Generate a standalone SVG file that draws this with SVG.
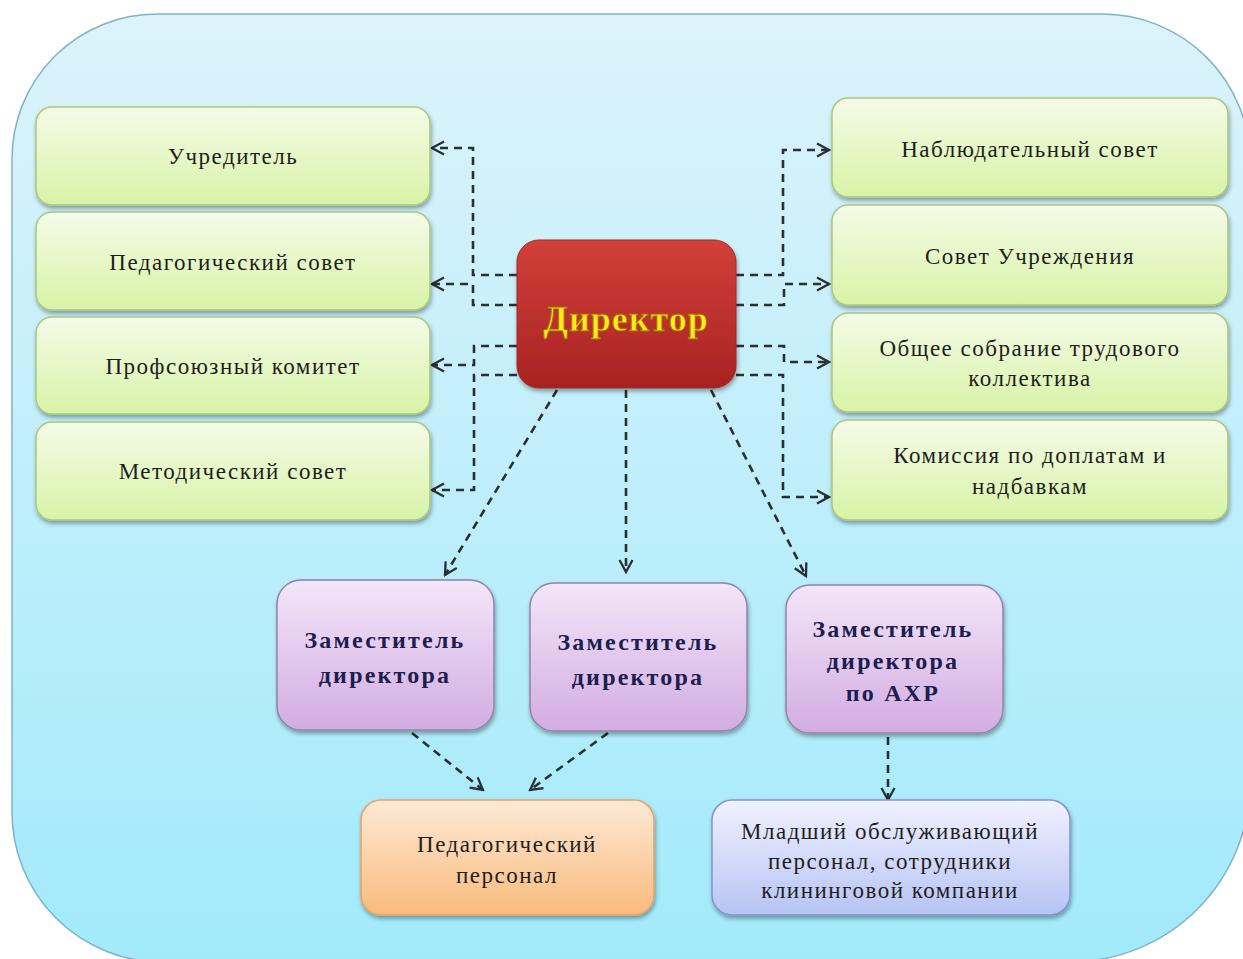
<svg xmlns="http://www.w3.org/2000/svg" width="1243" height="959" viewBox="0 0 1243 959">
<defs>
  <linearGradient id="bg" x1="0" y1="0" x2="0" y2="1">
    <stop offset="0" stop-color="#dcf3fb"/>
    <stop offset="1" stop-color="#a2eafb"/>
  </linearGradient>
  <linearGradient id="gGreen" x1="0" y1="0" x2="0" y2="1">
    <stop offset="0" stop-color="#f4fbe8"/>
    <stop offset="1" stop-color="#d8f3a6"/>
  </linearGradient>
  <linearGradient id="gRed" x1="0" y1="0" x2="0" y2="1">
    <stop offset="0" stop-color="#d2403a"/>
    <stop offset="1" stop-color="#a82222"/>
  </linearGradient>
  <linearGradient id="gPurple" x1="0" y1="0" x2="0" y2="1">
    <stop offset="0" stop-color="#f3e6f8"/>
    <stop offset="1" stop-color="#d2ace2"/>
  </linearGradient>
  <linearGradient id="gOrange" x1="0" y1="0" x2="0" y2="1">
    <stop offset="0" stop-color="#fde9d6"/>
    <stop offset="1" stop-color="#f9bb7c"/>
  </linearGradient>
  <linearGradient id="gBlue" x1="0" y1="0" x2="0" y2="1">
    <stop offset="0" stop-color="#f1f1ff"/>
    <stop offset="1" stop-color="#b6c4f4"/>
  </linearGradient>
  <filter id="sh" x="-10%" y="-10%" width="120%" height="130%">
    <feDropShadow dx="1" dy="3" stdDeviation="2" flood-color="#000" flood-opacity="0.35"/>
  </filter>
  <marker id="arr" viewBox="0 0 16 16" refX="14" refY="8" markerWidth="16" markerHeight="16" markerUnits="userSpaceOnUse" orient="auto">
    <path d="M2,1.5 L14,8 L2,14.5" fill="none" stroke="#2a2f33" stroke-width="2.3"/>
  </marker>
  <style>
    .t { font-family: "Liberation Serif", "Times New Roman", serif; font-size: 23px; letter-spacing: 1.5px; fill: #1e1e1e; text-anchor: middle; }
    .tb { font-family: "Liberation Serif", "Times New Roman", serif; font-size: 24px; letter-spacing: 2.2px; font-weight: bold; fill: #1c2050; text-anchor: middle; }
    .dir { font-family: "Liberation Serif", "Times New Roman", serif; font-size: 36px; letter-spacing: 1px; font-weight: bold; fill: #ffe81c; stroke: #9a6a00; stroke-width: 0.8; text-anchor: middle; }
    .green { fill: url(#gGreen); stroke: #a9c77c; stroke-width: 1.5; filter: url(#sh); }
    .red { fill: url(#gRed); stroke: #a32a26; stroke-width: 1; filter: url(#sh); }
    .purple { fill: url(#gPurple); stroke: #9383a9; stroke-width: 1.5; filter: url(#sh); }
    .orange { fill: url(#gOrange); stroke: #e2a466; stroke-width: 1.5; filter: url(#sh); }
    .blue { fill: url(#gBlue); stroke: #8494c8; stroke-width: 1.5; filter: url(#sh); }
    .c { fill: none; stroke: #2a2f33; stroke-width: 2.6; stroke-dasharray: 8 6; marker-end: url(#arr); }
  </style>
</defs>

<g id="background">
  <path d="M157,14 H1102 A148,148 0 0 1 1250,162 V782 A180,180 0 0 1 1070,962 H162 A150,150 0 0 1 12,812 V159 A145,145 0 0 1 157,14 Z" fill="url(#bg)" stroke="#7fb3c4" stroke-width="1.5"/>
</g>

<g id="connectors">
  <path class="c" d="M517,275 H473 V148 H432"/>
  <path class="c" d="M517,305 H473 V284 H432"/>
  <path class="c" d="M517,346 H474 V365 H432"/>
  <path class="c" d="M517,375 H474 V490 H432"/>
  <path class="c" d="M736,275 H783 V150 H829"/>
  <path class="c" d="M736,305 H784 V284 H829"/>
  <path class="c" d="M736,346 H784 V362 H829"/>
  <path class="c" d="M736,375 H783 V497 H829"/>
  <path class="c" d="M557,390 L445,575"/>
  <path class="c" d="M626,390 V572"/>
  <path class="c" d="M711,390 L806,576"/>
  <path class="c" d="M412,733 L483,790"/>
  <path class="c" d="M608,733 L530,790"/>
  <path class="c" d="M888,737 V800"/>
</g>

<g id="n-uchreditel">
  <rect class="green" x="36" y="107" width="394" height="98" rx="16"/>
  <text class="t" x="233" y="164">Учредитель</text>
</g>
<g id="n-pedsovet">
  <rect class="green" x="36" y="212" width="394" height="98" rx="16"/>
  <text class="t" x="233" y="270">Педагогический совет</text>
</g>
<g id="n-profkom">
  <rect class="green" x="36" y="317" width="394" height="97" rx="16"/>
  <text class="t" x="233" y="374">Профсоюзный комитет</text>
</g>
<g id="n-metodsovet">
  <rect class="green" x="36" y="422" width="394" height="98" rx="16"/>
  <text class="t" x="233" y="479">Методический совет</text>
</g>

<g id="n-nabludsovet">
  <rect class="green" x="832" y="98" width="396" height="99" rx="16"/>
  <text class="t" x="1030" y="157">Наблюдательный совет</text>
</g>
<g id="n-sovet-uchr">
  <rect class="green" x="832" y="205" width="396" height="100" rx="16"/>
  <text class="t" x="1030" y="264">Совет Учреждения</text>
</g>
<g id="n-obshee">
  <rect class="green" x="832" y="313" width="396" height="99" rx="16"/>
  <text class="t" x="1030" y="356">Общее собрание трудового</text>
  <text class="t" x="1030" y="386">коллектива</text>
</g>
<g id="n-komissiya">
  <rect class="green" x="832" y="420" width="396" height="100" rx="16"/>
  <text class="t" x="1030" y="463">Комиссия по доплатам и</text>
  <text class="t" x="1030" y="494">надбавкам</text>
</g>

<g id="n-director">
  <rect class="red" x="517" y="240" width="219" height="148" rx="22"/>
  <text class="dir" x="626" y="331">Директор</text>
</g>

<g id="n-zam1">
  <rect class="purple" x="277" y="580" width="217" height="150" rx="24"/>
  <text class="tb" x="385" y="648">Заместитель</text>
  <text class="tb" x="385" y="683">директора</text>
</g>
<g id="n-zam2">
  <rect class="purple" x="530" y="583" width="217" height="148" rx="24"/>
  <text class="tb" x="638" y="650">Заместитель</text>
  <text class="tb" x="638" y="685">директора</text>
</g>
<g id="n-zam-ahr">
  <rect class="purple" x="786" y="585" width="217" height="148" rx="24"/>
  <text class="tb" x="893" y="637">Заместитель</text>
  <text class="tb" x="893" y="669">директора</text>
  <text class="tb" x="893" y="701">по АХР</text>
</g>

<g id="n-pedpersonal">
  <rect class="orange" x="361" y="800" width="293" height="115" rx="20"/>
  <text class="t" x="507" y="852">Педагогический</text>
  <text class="t" x="507" y="883">персонал</text>
</g>
<g id="n-mladshiy">
  <rect class="blue" x="712" y="800" width="358" height="115" rx="20"/>
  <text class="t" x="890" y="839">Младший обслуживающий</text>
  <text class="t" x="890" y="869">персонал, сотрудники</text>
  <text class="t" x="890" y="898">клининговой компании</text>
</g>
</svg>
